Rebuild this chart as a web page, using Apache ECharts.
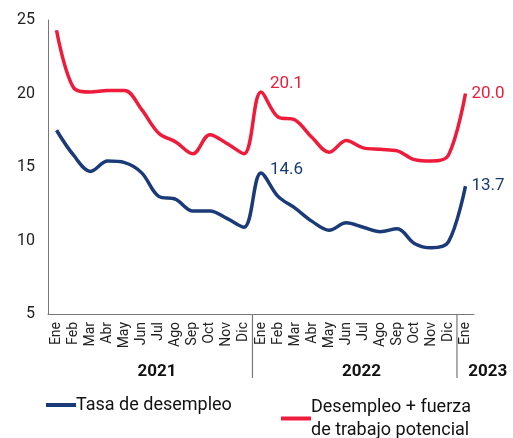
<!DOCTYPE html>
<html>
<head>
<meta charset="utf-8">
<script src="https://cdn.jsdelivr.net/npm/echarts@6/dist/echarts.min.js"></script>
<style>
  html, body { margin: 0; padding: 0; background: #fff; }
  #main { width: 513px; height: 438px; }
</style>
</head>
<body>
<div id="main"></div>
<script>
var meses = ['Ene','Feb','Mar','Abr','May','Jun','Jul','Ago','Sep','Oct','Nov','Dic',
             'Ene','Feb','Mar','Abr','May','Jun','Jul','Ago','Sep','Oct','Nov','Dic','Ene'];
var anios = ['2021', '2022', '2023'];
var inicioAnio = [0, 12, 24];   // índice del primer mes de cada año
var desempleo = [17.5, 15.8, 14.7, 15.4, 15.3, 14.6, 13.0, 12.8, 12.0, 12.0, 11.5, 10.9,
                 14.6, 13.0, 12.2, 11.3, 10.7, 11.2, 10.9, 10.6, 10.8, 9.8, 9.5, 9.9, 13.7];
var potencial = [24.3, 20.4, 20.1, 20.2, 20.2, 18.9, 17.3, 16.7, 15.9, 17.2, 16.6, 15.9,
                 20.1, 18.4, 18.2, 17.0, 16.0, 16.8, 16.3, 16.2, 16.1, 15.5, 15.4, 15.8, 20.0];
var etiquetados = [12, 24];     // puntos con valor visible

var azul = '#1b3a78';
var rojo = '#ee1b3b';
var fuente = 'Roboto';

var dom = document.getElementById('main');
var myChart = echarts.init(dom);

function serie(nombre, valores, color, subida) {
  return {
    name: nombre,
    type: 'line',
    data: valores,
    smooth: 0.35,
    symbol: 'circle',
    symbolSize: 0,
    showSymbol: true,
    showAllSymbol: true,
    lineStyle: { color: color, width: 3.5 },
    itemStyle: { color: color },
    label: {
      show: true,
      position: 'right',
      distance: 6,
      color: color,
      fontSize: 17,
      fontFamily: fuente,
      formatter: function (p) {
        if (etiquetados.indexOf(p.dataIndex) < 0) return '';
        return p.value.toFixed(1);
      }
    },
    labelLayout: function (p) {
      return p.dataIndex === 12 ? { dx: 3, dy: subida } : {};
    }
  };
}

var option = {
  animation: false,
  grid: { left: 48, right: 39, top: 20, bottom: 124 },
  legend: [
    {
      left: 41, top: 391,
      itemWidth: 30, itemHeight: 4, itemGap: 0,
      icon: 'rect',
      data: ['Tasa de desempleo'],
      textStyle: { fontSize: 18, fontFamily: fuente, color: '#111', padding: [0, 0, 0, -5] }
    },
    {
      left: 276, top: 379,
      itemWidth: 30, itemHeight: 4, itemGap: 0,
      icon: 'rect',
      data: ['Desempleo + fuerza'],
      formatter: function (n) { return n + '\nde trabajo potencial'; },
      textStyle: { fontSize: 18, fontFamily: fuente, color: '#111', lineHeight: 23, padding: [23, 0, 0, -5] }
    }
  ],
  xAxis: {
    type: 'category',
    data: meses,
    boundaryGap: true,
    axisLine: { lineStyle: { color: '#777', width: 1 } },
    axisTick: { show: false },
    axisLabel: {
      rotate: 90, margin: 8, interval: 0,
      fontSize: 14, fontFamily: fuente, color: '#222'
    }
  },
  yAxis: {
    type: 'value',
    min: 5, max: 25, interval: 5,
    axisLine: { show: true, lineStyle: { color: '#777', width: 1 } },
    axisTick: { show: false },
    splitLine: { show: false },
    axisLabel: { fontSize: 16, fontFamily: fuente, color: '#222', margin: 13 }
  },
  series: [
    serie('Tasa de desempleo', desempleo, azul, -3),
    serie('Desempleo + fuerza', potencial, rojo, -8)
  ]
};

myChart.setOption(option, true);

// separadores y etiquetas de años bajo el eje
var x0 = myChart.convertToPixel({ xAxisIndex: 0 }, 0);
var x1 = myChart.convertToPixel({ xAxisIndex: 0 }, 1);
var paso = x1 - x0;
var yEje = myChart.convertToPixel({ yAxisIndex: 0 }, 5);
var graficos = [];
inicioAnio.forEach(function (ini, k) {
  if (k > 0) {
    var xs = x0 + (ini - 0.5) * paso;
    graficos.push({
      type: 'line',
      shape: { x1: xs, y1: yEje, x2: xs, y2: yEje + 64 },
      style: { stroke: '#777', lineWidth: 1.2 }
    });
  }
  var fin = k < inicioAnio.length - 1 ? inicioAnio[k + 1] - 1 : ini + 2.6;
  var centro = x0 + ((ini + fin) / 2 + (k < 2 ? 0.4 : 0)) * paso;
  graficos.push({
    type: 'text',
    x: centro, y: yEje + 58,
    style: {
      text: anios[k], fontSize: 17, fontWeight: 'bold', fontFamily: fuente,
      fill: '#111', align: 'center', verticalAlign: 'middle'
    }
  });
});
myChart.setOption({ graphic: graficos });
</script>
</body>
</html>
